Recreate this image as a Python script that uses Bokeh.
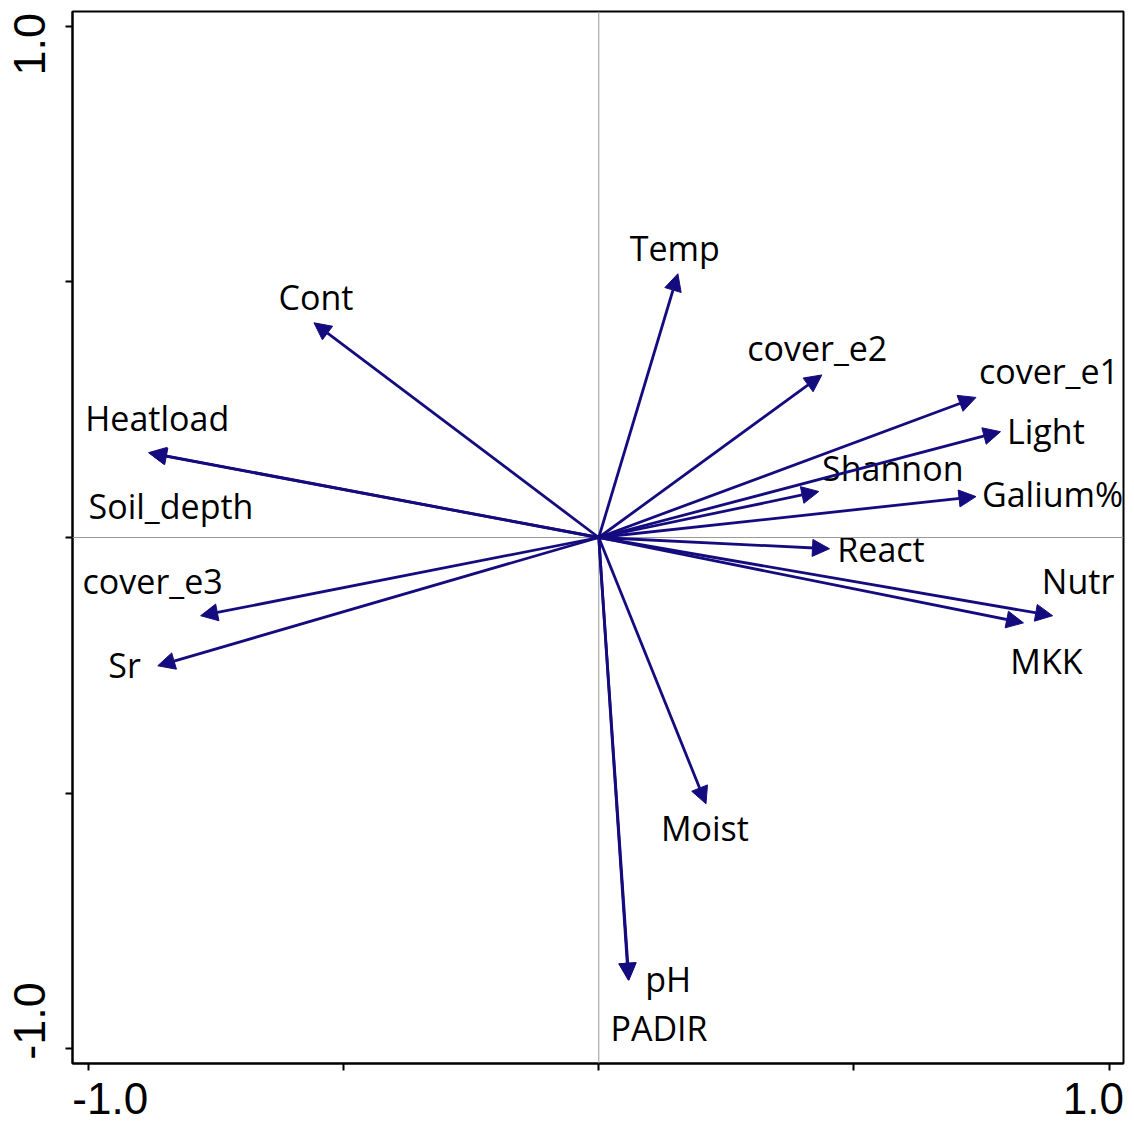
from bokeh.plotting import figure
from bokeh.models import (ColumnDataSource, Range1d, Span, Arrow, NormalHead,
                          FixedTicker)
from bokeh.core.properties import value
from bokeh.embed import file_html
from bokeh.resources import INLINE

# Biplot: explanatory variables as arrows on the first two ordination axes
variables = ["Temp", "Cont", "cover_e2", "cover_e1", "Light", "Shannon",
             "Galium%", "React", "Nutr", "MKK", "Heatload", "Soil_depth",
             "cover_e3", "Sr", "Moist", "pH", "PADIR"]
axis1_scores = [0.155, -0.558, 0.437, 0.739, 0.787, 0.431,
                0.739, 0.452, 0.889, 0.832, -0.882, -0.880,
                -0.780, -0.864, 0.210, 0.059, 0.058]
axis2_scores = [0.516, 0.420, 0.318, 0.274, 0.207, 0.090,
                0.080, -0.022, -0.153, -0.167, 0.166, 0.165,
                -0.153, -0.251, -0.521, -0.866, -0.866]

# where each variable name is written (same units as the axes)
label_x = [0.149, -0.554, 0.428, 0.882, 0.876, 0.576,
           0.889, 0.553, 0.939, 0.877, -0.865, -0.838,
           -0.874, -0.929, 0.208, 0.136, 0.118]
label_y = [0.567, 0.471, 0.370, 0.326, 0.209, 0.136,
           0.086, -0.022, -0.086, -0.241, 0.234, 0.061,
           -0.086, -0.249, -0.568, -0.863, -0.959]

tick_marks = [-1.0, -0.5, 0.0, 0.5, 1.0]
x_tick_labels = {-0.957: "-1.0", 0.969: "1.0"}
y_tick_labels = {-0.946: "-1.0", 0.965: "1.0"}

ARROW = "#140c7e"

src = ColumnDataSource(dict(
    name=variables,
    x0=[0.0] * len(variables), y0=[0.0] * len(variables),
    x1=axis1_scores, y1=axis2_scores,
    lx=label_x, ly=label_y,
))

p = figure(frame_width=1051, frame_height=1052,
           x_range=Range1d(-1.031, 1.028), y_range=Range1d(-1.029, 1.029),
           output_backend="svg", toolbar_location=None,
           min_border_left=72, min_border_right=11,
           min_border_top=11, min_border_bottom=61)
p.background_fill_color = "white"
p.border_fill_color = "white"
p.outline_line_color = "black"
p.outline_line_width = 2
p.grid.visible = False

# zero lines
p.add_layout(Span(location=0, dimension="height", line_color="#999999", line_width=1))
p.add_layout(Span(location=0, dimension="width", line_color="#999999", line_width=1))

# arrows
p.add_layout(Arrow(source=src, x_start="x0", y_start="y0", x_end="x1", y_end="y1",
                   line_color=ARROW, line_width=2.8,
                   end=NormalHead(size=17, fill_color=ARROW, line_color=ARROW,
                                  line_width=1)))

p.text(x="lx", y="ly", text="name", source=src,
       text_font=value("Open Sans"), text_font_size="34px",
       text_align="center", text_baseline="middle", text_color="black")

# axes: tick marks at the true positions, labels set just inside the ends
for ax, labels in ((p.xaxis[0], x_tick_labels), (p.yaxis[0], y_tick_labels)):
    ax.ticker = FixedTicker(ticks=list(labels.keys()), minor_ticks=tick_marks)
    ax.major_label_overrides = labels
    ax.major_tick_out = 0
    ax.major_tick_in = 0
    ax.minor_tick_out = 7
    ax.minor_tick_in = 0
    ax.minor_tick_line_color = "black"
    ax.minor_tick_line_width = 2
    ax.axis_line_color = "black"
    ax.axis_line_width = 2
    ax.major_label_text_font = "Liberation Sans"
    ax.major_label_text_color = "black"

p.xaxis[0].major_label_text_font_size = "44px"
p.xaxis[0].major_label_standoff = 12
p.yaxis[0].major_label_text_font_size = "45px"
p.yaxis[0].major_label_standoff = 20
p.yaxis[0].major_label_orientation = "vertical"

open("out.html", "w").write(file_html(p, INLINE))
